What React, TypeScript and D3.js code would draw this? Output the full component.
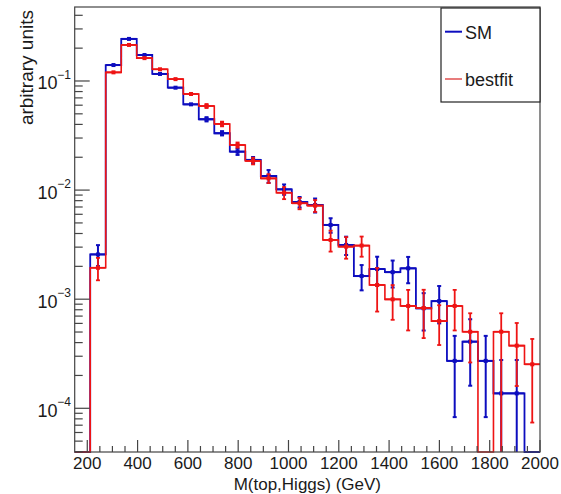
import React from 'react';
import * as d3 from 'd3';

// Histogram binning (GeV)
const X_MIN = 150;
const X_MAX = 2000;
const N_BINS = 30;

// SM histogram contents (arbitrary units) and errors
const smValues = [0, 2.57e-3, 0.140, 0.243, 0.173, 0.116, 0.0868, 0.0611, 0.0446, 0.0332, 0.0225, 0.0189, 0.01346, 0.01016, 0.00778, 0.0073, 0.00479, 0.00314, 0.00163, 0.00189, 0.00177, 0.00192, 0.000826, 0.00096, 0.000272, 0.000408, 0.000272, 0.000137, 0.000137, 0];
const smErrHigh = [0, 0.00056, 0.003, 0.004, 0.0035, 0.003, 0.0028, 0.0025, 0.002, 0.0015, 0.0015, 0.0012, 0.0018, 0.0011, 0.00086, 0.00107, 0.00073, 0.0006, 0.000425, 0.00056, 0.00049, 0.00052, 0.00031, 0.00036, 0.000189, 0.000247, 0.000189, 0.00014, 0.00014, 0];
const smErrLow = smErrHigh;

// bestfit histogram contents and errors
const fitValues = [0, 1.94e-3, 0.120, 0.214, 0.162, 0.128, 0.104, 0.076, 0.059, 0.0404, 0.0259, 0.0185, 0.0128, 0.00946, 0.00757, 0.0072, 0.00349, 0.00303, 0.0031, 0.00135, 0.000997, 0.000867, 0.00083, 0.00063, 0.000867, 0.000503, 0, 0.000503, 0.000375, 0.000253];
const fitErrHigh = [0, 0.00045, 0.003, 0.004, 0.0035, 0.003, 0.003, 0.003, 0.0025, 0.002, 0.0014, 0.0013, 0.0012, 0.0012, 0.0009, 0.0009, 0.00076, 0.00068, 0.00065, 0.00058, 0.00035, 0.00035, 0.00039, 0.00025, 0.00035, 0.00024, 0, 0.00024, 0.00023, 0.000179];
const fitErrLow = [0, 0.00045, 0.003, 0.004, 0.0035, 0.003, 0.003, 0.003, 0.0025, 0.002, 0.0014, 0.0013, 0.0012, 0.0012, 0.0009, 0.0009, 0.00076, 0.00068, 0.00065, 0.00058, 0.00035, 0.00035, 0.00039, 0.00025, 0.00035, 0.00024, 0, 0.000503, 0.000215, 0.000179];

const xMajorTicks = [200, 400, 600, 800, 1000, 1200, 1400, 1600, 1800, 2000];
const yMajorExps = [-4, -3, -2, -1];

const legendLabels = ['SM', 'bestfit'];
const X_TITLE = 'M(top,Higgs) (GeV)';
const Y_TITLE = 'arbitrary units';

const W = 561;
const H = 494;
const LEFT = 74.7;
const RIGHT = 540;
const TOP = 7;
const BOTTOM = 452;
const Y_DOMAIN: [number, number] = [3.975e-5, 0.4766];

const BLUE = '#0d0dbf';
const RED = '#ee1414';
const FONT = 'Liberation Sans, Arial, Helvetica, sans-serif';
const TXT = '#1a1a1a';
const AXIS = '#444';

const x = d3.scaleLinear().domain([X_MIN, X_MAX]).range([LEFT, RIGHT]);
const y = d3.scaleLog().domain(Y_DOMAIN).range([BOTTOM, TOP]).clamp(true);
const binW = (X_MAX - X_MIN) / N_BINS;
const edges = d3.range(N_BINS + 1).map((i) => X_MIN + i * binW);

function yv(v: number) {
  return v > 0 ? y(v) : BOTTOM;
}

function stepPath(values: number[]) {
  const pts: [number, number][] = [];
  values.forEach((v, i) => {
    pts.push([x(edges[i]), yv(v)]);
    pts.push([x(edges[i + 1]), yv(v)]);
  });
  return d3.line()(pts) || '';
}

function Series({ values, lo, hi, color, histWidth, errWidth }: { values: number[]; lo: number[]; hi: number[]; color: string; histWidth: number; errWidth: number }) {
  return (
    <g>
      <path d={stepPath(values)} fill="none" stroke={color} strokeWidth={histWidth} />
      {values.map((v, i) => {
        if (v <= 0) return null;
        const cx = x((edges[i] + edges[i + 1]) / 2);
        const cy = y(v);
        const yTop = yv(v + hi[i]);
        const yBot = v - lo[i] > 0 ? yv(v - lo[i]) : BOTTOM;
        const x0 = x(edges[i]);
        const x1 = x(edges[i + 1]);
        return (
          <g key={i} stroke={color} strokeWidth={errWidth}>
            <line x1={x0} x2={x1} y1={cy} y2={cy} />
            {yBot - yTop > 4 && <line x1={cx} x2={cx} y1={yTop} y2={yBot} />}
            {yBot - yTop > 4 && <line x1={cx - 2} x2={cx + 2} y1={yTop} y2={yTop} />}
            {yBot - yTop > 4 && yBot < BOTTOM && <line x1={cx - 2} x2={cx + 2} y1={yBot} y2={yBot} />}
            <rect x={cx - 2} y={cy - 2} width={4} height={4} fill={color} stroke="none" />
          </g>
        );
      })}
    </g>
  );
}

export default function App() {
  const yTicks: { v: number; major: boolean }[] = [];
  for (let e = -5; e <= 0; e++) {
    for (let m = 1; m <= 9; m++) {
      const v = m * Math.pow(10, e);
      if (v >= Y_DOMAIN[0] && v <= Y_DOMAIN[1]) yTicks.push({ v, major: m === 1 });
    }
  }
  const xMinor = d3.range(200, X_MAX + 1, 50).filter((v) => !xMajorTicks.includes(v));

  return (
    <svg width={W} height={H} style={{ position: 'absolute', left: 0, top: 0, background: '#fff' }} fontFamily={FONT}>
      <rect x={0} y={0} width={W} height={H} fill="#fff" />
      <Series values={smValues} lo={smErrLow} hi={smErrHigh} color={BLUE} histWidth={1.8} errWidth={2} />
      <Series values={fitValues} lo={fitErrLow} hi={fitErrHigh} color={RED} histWidth={1.6} errWidth={1.8} />

      {/* frame */}
      <rect x={LEFT} y={TOP} width={RIGHT - LEFT} height={BOTTOM - TOP} fill="none" stroke={AXIS} strokeWidth={1.2} />

      {/* y ticks */}
      {yTicks.map((t, i) => (
        <line key={'yt' + i} x1={LEFT} x2={LEFT + (t.major ? 15 : 8)} y1={y(t.v)} y2={y(t.v)} stroke={AXIS} strokeWidth={1.2} />
      ))}
      {yMajorExps.map((e) => {
        const ty = y(Math.pow(10, e));
        return (
          <g key={'yl' + e} fill={TXT}>
            <text x={57.5} y={ty + 8.5} fontSize={18} textAnchor="end">10</text>
            <text x={71} y={ty - 2} fontSize={12} textAnchor="end">{'\u2212' + Math.abs(e)}</text>
          </g>
        );
      })}

      {/* x ticks */}
      {xMajorTicks.map((v) => (
        <g key={'xt' + v}>
          <line x1={x(v)} x2={x(v)} y1={BOTTOM} y2={BOTTOM - 12} stroke={AXIS} strokeWidth={1.2} />
          <text x={x(v)} y={469} fontSize={17} textAnchor="middle" fill={TXT}>{v}</text>
        </g>
      ))}
      {xMinor.map((v) => (
        <line key={'xm' + v} x1={x(v)} x2={x(v)} y1={BOTTOM} y2={BOTTOM - 6} stroke={AXIS} strokeWidth={1.2} />
      ))}

      {/* titles */}
      <text x={(LEFT + RIGHT) / 2} y={490} fontSize={17} textAnchor="middle" fill={TXT}>{X_TITLE}</text>
      <text transform="translate(32.5,10) rotate(-90)" fontSize={19} textAnchor="end" fill={TXT}>{Y_TITLE}</text>

      {/* legend */}
      <rect x={441} y={8} width={99} height={94} fill="#fff" stroke="#222" strokeWidth={1.2} />
      <line x1={445} x2={462} y1={31.7} y2={31.7} stroke={BLUE} strokeWidth={2} />
      <text x={465} y={38.5} fontSize={18} fill={TXT}>{legendLabels[0]}</text>
      <line x1={445} x2={462} y1={79} y2={79} stroke="#e05050" strokeWidth={1.5} />
      <text x={465} y={86} fontSize={18} fill={TXT}>{legendLabels[1]}</text>
    </svg>
  );
}
